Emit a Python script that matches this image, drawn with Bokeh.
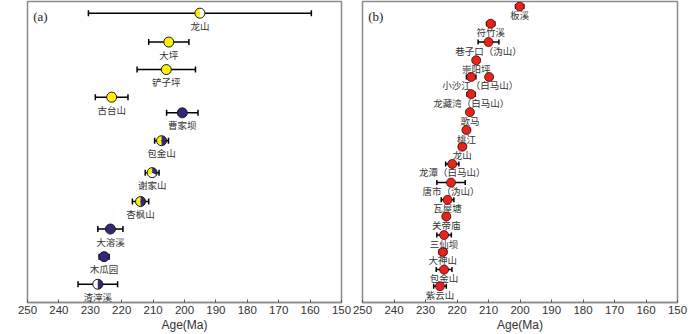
from bokeh.plotting import figure
from bokeh.models import Range1d, ColumnDataSource, Whisker, FixedTicker, TeeHead
from bokeh.layouts import row
from bokeh.core.properties import value
from bokeh.embed import file_html
from bokeh.resources import INLINE

# ---------------- data ----------------
ticks = [250, 240, 230, 220, 210, 200, 190, 180, 170, 160, 150]

# panel (a)
a_names = ["龙山", "大坪", "铲子坪", "古台山", "曹家坝", "包金山", "谢家山", "杏枫山", "大溶溪", "木瓜园", "渣滓溪"]
a_age = [195.1, 205.0, 205.8, 223.2, 200.7, 207.3, 210.3, 214.0, 223.6, 225.6, 227.6]
a_err = [35.5, 6.4, 9.3, 5.2, 5.0, 2.2, 2.2, 2.6, 4.0, 1.6, 6.3]
a_pos = [12.7, 41.7, 69.3, 97.0, 112.7, 140.7, 172.7, 201.7, 229.3, 257.0, 284.7]
# marker composition: one colour, left/right halves, or three parts
a_fill = [("Y", "W"), ("Y",), ("Y",), ("Y",), ("P",), ("Y", "P"), ("Y", "P", "W"), ("Y", "P"), ("P",), ("P",), ("W", "P")]

# panel (b)
b_names = ["板溪", "符竹溪", "巷子口（沩山）", "崇阳坪", "小沙江（白马山）", "龙藏湾（白马山）", "歌马", "桃江", "龙山",
           "龙潭（白马山）", "唐市（沩山）", "瓦屋塘", "关帝庙", "三仙坝", "大神山", "包金山", "紫云山"]
b_pos = [6.0, 23.3, 41.7, 60.0, 76.7, 94.0, 112.0, 130.0, 146.7, 164.0, 182.7, 200.0, 216.7, 235.3, 252.3, 270.0, 286.7]
# points: (row index, age, error)
b_row = [0, 1, 2, 3, 4, 4, 5, 6, 7, 8, 9, 10, 11, 12, 13, 14, 15, 16]
b_age = [200.1, 209.3, 210.0, 213.9, 215.5, 209.8, 215.5, 215.9, 217.0, 218.3, 221.5, 221.9, 223.0, 223.4, 224.1, 224.5, 224.1, 225.4]
b_err = [1.3, 1.3, 3.3, 1.0, 1.5, 0.8, 1.3, 1.0, 1.0, 1.0, 2.1, 4.5, 2.0, 1.0, 2.3, 1.2, 2.5, 2.0]

COL = {"Y": "#FFF200", "P": "#35267A", "W": "#FFFFFF"}
RED = "#E8231C"
FRAME = "#8a8a8a"
TXT = "#333333"
CJK = "Noto Sans CJK SC"


def base_fig(width, left, right, tag):
    p = figure(width=width, height=334, output_backend="svg", toolbar_location=None,
               x_range=Range1d(250, 150), y_range=Range1d(303, 1),
               y_axis_location=None, min_border_left=left, min_border_right=right,
               min_border_top=1, min_border_bottom=0)
    p.xgrid.visible = False
    p.ygrid.visible = False
    p.outline_line_color = FRAME
    p.outline_line_width = 1.5
    ax = p.xaxis[0]
    ax.ticker = FixedTicker(ticks=ticks)
    ax.major_tick_in = 3
    ax.major_tick_out = 0
    ax.minor_tick_line_color = None
    ax.major_tick_line_color = "#555555"
    ax.axis_line_color = FRAME
    ax.axis_line_width = 1.5
    ax.major_label_text_font = "Liberation Sans"
    ax.major_label_text_font_size = "11.5px"
    ax.major_label_text_color = TXT
    ax.major_label_standoff = 3
    ax.axis_label = "Age(Ma)"
    ax.axis_label_text_font = "Liberation Sans"
    ax.axis_label_text_font_size = "12px"
    ax.axis_label_text_font_style = "normal"
    ax.axis_label_text_color = TXT
    ax.axis_label_standoff = 1
    p.text(x=[248.2], y=[16], text=[tag], text_font=value("Liberation Serif"),
           text_font_size=value("13px"), text_color="#222222",
           text_align="left", text_baseline="middle")
    return p


# ---------------- panel (a) ----------------
pa = base_fig(351, 27, 10, "(a)")
src_a = ColumnDataSource(dict(x=a_age, y=a_pos, lo=[v - e for v, e in zip(a_age, a_err)],
                              hi=[v + e for v, e in zip(a_age, a_err)], name=a_names))
pa.add_layout(Whisker(source=src_a, base="y", lower="lo", upper="hi", dimension="width",
                      line_color="black", line_width=1.5,
                      lower_head=TeeHead(size=6, line_color="black", line_width=1.5),
                      upper_head=TeeHead(size=6, line_color="black", line_width=1.5)))

wx, wy, ws, we, wc = [], [], [], [], []
for age, pos, comp in zip(a_age, a_pos, a_fill):
    if len(comp) == 1:
        parts = [(0, 360, comp[0])]
    elif len(comp) == 2:
        parts = [(90, 270, comp[0]), (270, 450, comp[1])]
    else:
        parts = [(90, 210, comp[0]), (-30, 90, comp[1]), (210, 330, comp[2])]
    for s, e, c in parts:
        wx.append(age); wy.append(pos); ws.append(s); we.append(e); wc.append(COL[c])
pa.wedge(x=wx, y=wy, radius=5, radius_units="screen", start_angle=ws, end_angle=we,
         start_angle_units="deg", end_angle_units="deg", direction="anticlock",
         fill_color=wc, line_color=None)
pa.scatter(x="x", y="y", size=10, fill_color=None, line_color="#1a1a1a", line_width=1, source=src_a)
pa.text(x="x", y="y", text="name", source=src_a, text_font=value(CJK), text_font_size=value("9.5px"),
        text_color=TXT, text_align="center", text_baseline="middle", y_offset=12.5)

# ---------------- panel (b) ----------------
pb = base_fig(349, 11, 23, "(b)")
src_b = ColumnDataSource(dict(x=b_age, y=[b_pos[r] for r in b_row],
                              lo=[v - e for v, e in zip(b_age, b_err)],
                              hi=[v + e for v, e in zip(b_age, b_err)]))
pb.add_layout(Whisker(source=src_b, base="y", lower="lo", upper="hi", dimension="width",
                      line_color="black", line_width=1.5,
                      lower_head=TeeHead(size=5, line_color="black", line_width=1.5),
                      upper_head=TeeHead(size=5, line_color="black", line_width=1.5)))
pb.scatter(x="x", y="y", size=9, fill_color=RED, line_color="#3a0a08", line_width=0.8, source=src_b)

lab_x = []
for i in range(len(b_names)):
    xs = [a for r, a in zip(b_row, b_age) if r == i]
    lab_x.append(sum(xs) / len(xs))
src_bl = ColumnDataSource(dict(x=lab_x, y=b_pos, name=b_names))
pb.text(x="x", y="y", text="name", source=src_bl, text_font=value(CJK), text_font_size=value("9.5px"),
        text_color=TXT, text_align="center", text_baseline="middle", y_offset=8.5)

layout = row(pa, pb)
open("out.html", "w").write(file_html(layout, INLINE))
